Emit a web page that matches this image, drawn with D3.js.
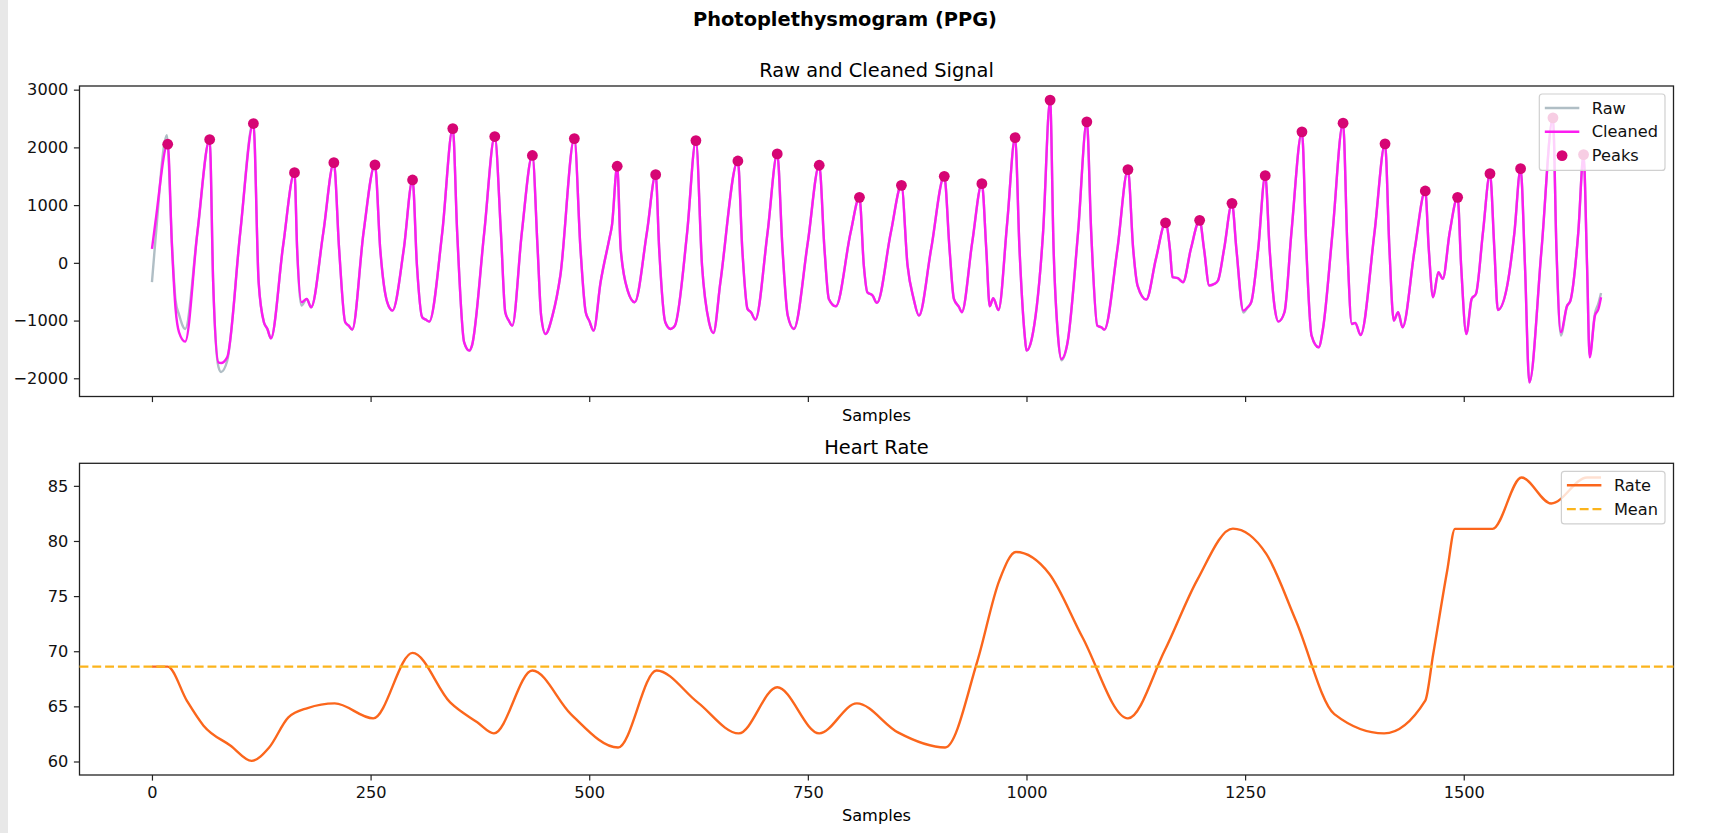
<!DOCTYPE html>
<html>
<head>
<meta charset="utf-8">
<script src="https://cdn.jsdelivr.net/npm/d3@7"></script>
<style>
  body { margin: 0; background: #fff; }
  svg { display: block; font-family: "DejaVu Sans", sans-serif; }
</style>
</head>
<body>
<svg id="chart" width="1716" height="833"></svg>
<script>
//
// PPG summary figure: raw / cleaned signal with peaks, and heart rate
//

/* Values: [sample, value] */
const cleanedPts = [
  [0, 243], [4, 707], [18, 2055], [23, 243], [27, -798], [31, -1203], [38, -1365],
  [52, 533], [66, 2136], [70, -335], [76, -1724], [79, -1735], [86, -1637],
  [101, 533], [116, 2413], [122, -335], [128, -1030], [132, -1145], [136, -1307],
  [150, 300], [163, 1562], [166, 243], [171, -682], [177, -625], [182, -769],
  [196, 533], [208, 1736], [214, 243], [221, -1030], [225, -1088], [229, -1157],
  [242, 533], [255, 1696], [261, 243], [269, -682], [275, -827],
  [288, 243], [298, 1436], [303, -46], [309, -943], [313, -983], [317, -1018],
  [332, 533], [344, 2326], [349, 533], [357, -1377], [363, -1521], [366, -1430],
  [380, 533], [392, 2188], [399, 533], [404, -856], [408, -1000], [412, -1088],
  [423, 533], [435, 1860], [441, 243], [445, -914], [450, -1232], [458, -914],
  [467, -219], [483, 2153], [490, 243], [496, -856], [500, -1001], [505, -1174],
  [513, -335], [523, 417], [526, 649], [532, 1673], [536, 243], [544, -480], [552, -682],
  [566, 533], [576, 1528], [580, 243], [587, -1030], [593, -1145], [598, -1088],
  [612, 533], [622, 2118], [629, -46], [637, -1030], [642, -1215],
  [650, -335], [670, 1765], [675, 243], [681, -798], [685, -856], [690, -983],
  [704, 533], [715, 1887], [721, 243], [727, -914], [734, -1145],
  [750, 359], [763, 1691], [769, 243], [774, -625], [782, -752],
  [799, 533], [809, 1135], [814, -46], [818, -509], [824, -567], [829, -694],
  [845, 533], [857, 1343], [864, -46], [871, -625], [877, -914],
  [891, 243], [906, 1499], [912, 243], [917, -625], [923, -769], [926, -856],
  [938, 359], [949, 1372], [954, 243], [958, -752], [962, -613], [968, -817],
  [978, 707], [987, 2170], [992, 243], [998, -1260], [1000, -1521], [1006, -1318],
  [1019, 533], [1027, 2819], [1031, 243], [1036, -1260], [1040, -1667], [1047, -1377],
  [1059, 533], [1069, 2443], [1074, 533], [1081, -1088], [1086, -1120], [1089, -1157],
  [1104, 243], [1116, 1615], [1122, 243], [1127, -393], [1137, -636],
  [1148, 69], [1159, 694], [1164, 243], [1167, -248], [1173, -266], [1179, -335],
  [1188, 243], [1198, 736], [1203, 243], [1209, -393], [1215, -364], [1219, -306],
  [1226, 243], [1235, 1031], [1240, 243], [1248, -827], [1253, -769], [1257, -682],
  [1265, 243], [1273, 1510], [1278, 243], [1284, -798], [1288, -1018], [1295, -856],
  [1303, 533], [1315, 2269], [1320, 243], [1326, -1260], [1334, -1463], [1339, -1146],
  [1350, 533], [1362, 2420], [1367, 243], [1372, -1059], [1376, -1040], [1382, -1250],
  [1398, 533], [1410, 2061], [1415, 243], [1420, -1000], [1425, -856], [1430, -1117],
  [1444, 243], [1456, 1245], [1460, 243], [1465, -596], [1471, -161], [1476, -277],
  [1484, 533], [1493, 1135], [1497, -46], [1503, -1232], [1509, -625], [1514, -538],
  [1522, 533], [1530, 1545], [1535, 243], [1539, -816], [1549, -451],
  [1558, 533], [1565, 1632], [1570, -46], [1575, -2071], [1589, 243],
  [1602, 2512], [1606, 243], [1611, -1203], [1618, -752], [1622, -653],
  [1631, 533], [1637, 1875], [1641, -46], [1644, -1637], [1650, -914], [1654, -800],
  [1657, -596]
];

const rawPts = [
  [0, -335], [4, 400], [17, 2210], [23, 300], [27, -650], [31, -900], [38, -1145],
  [52, 533], [66, 2136], [70, -335], [76, -1800], [79, -1890], [86, -1700],
  [101, 533], [116, 2460], [122, -335], [128, -1030], [132, -1145], [136, -1307],
  [150, 300], [163, 1562], [166, 243], [171, -740], [177, -625], [182, -769],
  [196, 533], [208, 1736], [214, 243], [221, -1030], [225, -1088], [229, -1157],
  [242, 533], [255, 1696], [261, 243], [269, -682], [275, -827],
  [288, 243], [298, 1436], [303, -46], [309, -943], [313, -983], [317, -1018],
  [332, 533], [344, 2326], [349, 533], [357, -1377], [363, -1521], [366, -1430],
  [380, 533], [392, 2188], [399, 533], [404, -856], [408, -1000], [412, -1088],
  [423, 533], [435, 1860], [441, 243], [445, -914], [450, -1232], [458, -914],
  [467, -219], [483, 2153], [490, 243], [496, -856], [500, -1001], [505, -1174],
  [513, -335], [523, 417], [526, 649], [532, 1673], [536, 243], [544, -480], [552, -682],
  [566, 533], [576, 1528], [580, 243], [587, -1030], [593, -1145], [598, -1088],
  [612, 533], [622, 2118], [629, -46], [637, -1030], [642, -1215],
  [650, -335], [670, 1765], [675, 243], [681, -798], [685, -856], [690, -983],
  [704, 533], [715, 1887], [721, 243], [727, -914], [734, -1145],
  [750, 359], [763, 1691], [769, 243], [774, -625], [782, -752],
  [799, 533], [809, 1135], [814, -46], [818, -509], [824, -567], [829, -694],
  [845, 533], [857, 1343], [864, -46], [871, -625], [877, -914],
  [891, 243], [906, 1499], [912, 243], [917, -625], [923, -769], [926, -856],
  [938, 359], [949, 1372], [954, 243], [958, -752], [962, -613], [968, -817],
  [978, 707], [987, 2170], [992, 243], [998, -1260], [1000, -1521], [1006, -1318],
  [1019, 533], [1027, 2819], [1031, 243], [1036, -1260], [1040, -1690], [1047, -1377],
  [1059, 533], [1069, 2443], [1074, 533], [1081, -1088], [1086, -1120], [1089, -1157],
  [1104, 243], [1116, 1615], [1122, 243], [1127, -393], [1137, -636],
  [1148, 69], [1159, 694], [1164, 243], [1167, -248], [1173, -266], [1179, -335],
  [1188, 243], [1198, 736], [1203, 243], [1209, -393], [1215, -364], [1219, -306],
  [1226, 243], [1235, 1031], [1240, 243], [1248, -860], [1253, -769], [1257, -682],
  [1265, 243], [1273, 1510], [1278, 243], [1284, -798], [1288, -1018], [1295, -856],
  [1303, 533], [1315, 2269], [1320, 243], [1326, -1260], [1334, -1463], [1339, -1146],
  [1350, 533], [1362, 2420], [1367, 243], [1372, -1059], [1376, -1040], [1382, -1250],
  [1398, 533], [1410, 2061], [1415, 243], [1420, -1000], [1425, -856], [1430, -1117],
  [1444, 243], [1456, 1245], [1460, 243], [1465, -596], [1471, -161], [1476, -277],
  [1484, 533], [1493, 1135], [1497, -46], [1503, -1232], [1509, -625], [1514, -538],
  [1522, 533], [1530, 1545], [1535, 243], [1539, -816], [1549, -451],
  [1558, 533], [1565, 1632], [1570, -46], [1575, -2071], [1589, 243],
  [1602, 2512], [1606, 243], [1611, -1260], [1618, -752], [1622, -653],
  [1631, 533], [1637, 1875], [1641, -46], [1644, -1600], [1650, -880], [1654, -700],
  [1657, -521]
];

const peakPts = [
  [18, 2055], [66, 2136], [116, 2413], [163, 1562], [208, 1736], [255, 1696],
  [298, 1436], [344, 2326], [392, 2188], [435, 1860], [483, 2153], [532, 1673],
  [576, 1528], [622, 2118], [670, 1765], [715, 1887], [763, 1691], [809, 1135],
  [857, 1343], [906, 1499], [949, 1372], [987, 2170], [1027, 2819], [1069, 2443],
  [1116, 1615], [1159, 694], [1198, 736], [1235, 1031], [1273, 1510], [1315, 2269],
  [1362, 2420], [1410, 2061], [1456, 1245], [1493, 1135], [1530, 1545], [1565, 1632],
  [1602, 2512], [1637, 1875]
];

const ratePts = [
  [0, 68.6], [18, 68.6], [40, 65.5], [59, 63.25], [90, 61.43], [114, 60.06],
  [134, 61.27], [156, 64.0], [178, 64.85], [209, 65.27], [253, 63.91], [298, 69.85],
  [341, 65.36], [372, 63.55], [391, 62.55], [435, 68.25], [479, 64.3], [533, 61.27],
  [577, 68.25], [624, 65.36], [671, 62.55], [715, 66.73], [763, 62.55], [806, 65.27],
  [853, 62.64], [907, 61.27], [944, 69.15], [969, 76.43], [988, 79.0], [1026, 77.03],
  [1064, 71.27], [1116, 63.91], [1158, 70.06], [1195, 76.43], [1236, 81.12],
  [1274, 78.85], [1308, 72.79], [1352, 64.3], [1409, 62.55], [1456, 65.52],
  [1465, 69.7], [1481, 77.27], [1490, 81.1], [1533, 81.1], [1566, 85.76],
  [1600, 83.4], [1641, 85.76], [1657, 85.76]
];

const rateMean = 68.6;
const sampleCount = 1658;

const sampleTicks = [0, 250, 500, 750, 1000, 1250, 1500];
const signalTicks = [-2000, -1000, 0, 1000, 2000, 3000];
const rateTicks = [60, 65, 70, 75, 80, 85];

/* Layout */
const PLOT_LEFT = 79.5;
const PLOT_RIGHT = 1673.5;
const TOP_PANEL = { top: 86, bottom: 396.5 };
const BOTTOM_PANEL = { top: 463.3, bottom: 775 };
const TICK_FONT = 16.2;
const TITLE_FONT = 19.4;

const COLORS = {
  raw: "#B0BEC5",
  cleaned: "#FB1CF0",
  peaks: "#D60574",
  rate: "#FB661C",
  mean: "#FBB41C"
};

const svg = d3.select("#chart");

// grey strip on the left of the screenshot
svg
  .append("rect")
  .attr("x", 0)
  .attr("y", 0)
  .attr("width", 8)
  .attr("height", 833)
  .attr("fill", "#e8e8e8");

// matplotlib style 5% padding on data extents
function padded(extent) {
  const d = (extent[1] - extent[0]) * 0.05;
  return [extent[0] - d, extent[1] + d];
}

const xScale = d3
  .scaleLinear()
  .domain(padded([0, sampleCount - 1]))
  .range([PLOT_LEFT, PLOT_RIGHT]);

const allSignal = cleanedPts.concat(rawPts, peakPts).map(d => d[1]);
const ySignal = d3
  .scaleLinear()
  .domain(padded(d3.extent(allSignal)))
  .range([TOP_PANEL.bottom, TOP_PANEL.top]);

const yRate = d3
  .scaleLinear()
  .domain(padded(d3.extent(ratePts, d => d[1])))
  .range([BOTTOM_PANEL.bottom, BOTTOM_PANEL.top]);

function drawAxes(panel, yScale, yTicks, showXLabels) {
  const xAxis = d3
    .axisBottom(xScale)
    .tickValues(sampleTicks)
    .tickSize(5.6)
    .tickPadding(5.6)
    .tickFormat(showXLabels ? d3.format("d") : () => "");
  const yAxis = d3
    .axisLeft(yScale)
    .tickValues(yTicks)
    .tickSize(5.6)
    .tickPadding(5.6)
    .tickFormat(d3.format("d"));

  const gx = svg
    .append("g")
    .attr("transform", "translate(0," + panel.bottom + ")")
    .call(xAxis);
  const gy = svg
    .append("g")
    .attr("transform", "translate(" + PLOT_LEFT + ",0)")
    .call(yAxis);

  [gx, gy].forEach(g => {
    g.select(".domain").remove();
    g.attr("font-family", null).attr("font-size", null);
    g.selectAll(".tick line").attr("stroke", "#222").attr("stroke-width", 1.2);
    g.selectAll(".tick text")
      .attr("fill", "#111")
      .style("font-size", TICK_FONT + "px");
  });

  // frame
  svg
    .append("rect")
    .attr("x", PLOT_LEFT)
    .attr("y", panel.top)
    .attr("width", PLOT_RIGHT - PLOT_LEFT)
    .attr("height", panel.bottom - panel.top)
    .attr("fill", "none")
    .attr("stroke", "#222")
    .attr("stroke-width", 1.3);
}

function drawLegend(panel, items) {
  const g = svg.append("g");
  const rowH = 23.8;
  const top = panel.top + 8;
  const handleLen = 34.5;
  const box = g
    .append("rect")
    .attr("y", top)
    .attr("rx", 3)
    .attr("fill", "rgba(255,255,255,0.8)")
    .attr("stroke", "#d0d0d0")
    .attr("stroke-width", 1.2);

  const texts = items.map((item, i) =>
    g
      .append("text")
      .attr("y", top + 14 + i * rowH)
      .attr("dy", "0.35em")
      .style("font-size", TICK_FONT + "px")
      .attr("fill", "#111")
      .text(item.label)
  );
  const textW = d3.max(texts, t => t.node().getComputedTextLength());
  const boxW = 5.5 + handleLen + 12.5 + textW + 7;
  const left = PLOT_RIGHT - 8.5 - boxW;

  box.attr("x", left).attr("width", boxW).attr("height", items.length * rowH + 5);

  items.forEach((item, i) => {
    const cy = top + 14 + i * rowH;
    texts[i].attr("x", left + 5.5 + handleLen + 12.5);
    if (item.type === "dot") {
      g.append("circle")
        .attr("cx", left + 5.5 + handleLen / 2)
        .attr("cy", cy)
        .attr("r", 5.4)
        .attr("fill", item.color);
    } else {
      g.append("line")
        .attr("x1", left + 5.5)
        .attr("x2", left + 5.5 + handleLen)
        .attr("y1", cy)
        .attr("y2", cy)
        .attr("stroke", item.color)
        .attr("stroke-width", 2.4)
        .attr("stroke-dasharray", item.dash || null);
    }
  });
}

/* Titles */
svg
  .append("text")
  .attr("x", 845)
  .attr("y", 25.5)
  .attr("text-anchor", "middle")
  .style("font-size", TITLE_FONT + "px")
  .style("font-weight", "bold")
  .text("Photoplethysmogram (PPG)");

const plotCenter = (PLOT_LEFT + PLOT_RIGHT) / 2;

svg
  .append("text")
  .attr("x", plotCenter)
  .attr("y", 77)
  .attr("text-anchor", "middle")
  .style("font-size", TITLE_FONT + "px")
  .text("Raw and Cleaned Signal");

svg
  .append("text")
  .attr("x", plotCenter)
  .attr("y", 453.5)
  .attr("text-anchor", "middle")
  .style("font-size", TITLE_FONT + "px")
  .text("Heart Rate");

[421, 821].forEach(y => {
  svg
    .append("text")
    .attr("x", plotCenter)
    .attr("y", y)
    .attr("text-anchor", "middle")
    .style("font-size", TICK_FONT + "px")
    .text("Samples");
});

/* Top panel: raw, cleaned, peaks */
drawAxes(TOP_PANEL, ySignal, signalTicks, false);

const signalLine = d3
  .line()
  .x(d => xScale(d[0]))
  .y(d => ySignal(d[1]))
  .curve(d3.curveMonotoneX);

svg
  .append("path")
  .datum(rawPts)
  .attr("d", signalLine)
  .attr("fill", "none")
  .attr("stroke", COLORS.raw)
  .attr("stroke-width", 2.4)
  .attr("stroke-linejoin", "round");

svg
  .append("path")
  .datum(cleanedPts)
  .attr("d", signalLine)
  .attr("fill", "none")
  .attr("stroke", COLORS.cleaned)
  .attr("stroke-width", 2.4)
  .attr("stroke-linejoin", "round");

svg
  .append("g")
  .selectAll("circle")
  .data(peakPts)
  .join("circle")
  .attr("cx", d => xScale(d[0]))
  .attr("cy", d => ySignal(d[1]))
  .attr("r", 5.4)
  .attr("fill", COLORS.peaks);

drawLegend(TOP_PANEL, [
  { label: "Raw", color: COLORS.raw, type: "line" },
  { label: "Cleaned", color: COLORS.cleaned, type: "line" },
  { label: "Peaks", color: COLORS.peaks, type: "dot" }
]);

/* Bottom panel: heart rate */
drawAxes(BOTTOM_PANEL, yRate, rateTicks, true);

const rateLine = d3
  .line()
  .x(d => xScale(d[0]))
  .y(d => yRate(d[1]))
  .curve(d3.curveMonotoneX);

svg
  .append("path")
  .datum(ratePts)
  .attr("d", rateLine)
  .attr("fill", "none")
  .attr("stroke", COLORS.rate)
  .attr("stroke-width", 2.4);

svg
  .append("line")
  .attr("x1", PLOT_LEFT)
  .attr("x2", PLOT_RIGHT)
  .attr("y1", yRate(rateMean))
  .attr("y2", yRate(rateMean))
  .attr("stroke", COLORS.mean)
  .attr("stroke-width", 2.4)
  .attr("stroke-dasharray", "8.9,3.9");

drawLegend(BOTTOM_PANEL, [
  { label: "Rate", color: COLORS.rate, type: "line" },
  { label: "Mean", color: COLORS.mean, type: "line", dash: "8.9,3.9" }
]);
</script>
</body>
</html>
